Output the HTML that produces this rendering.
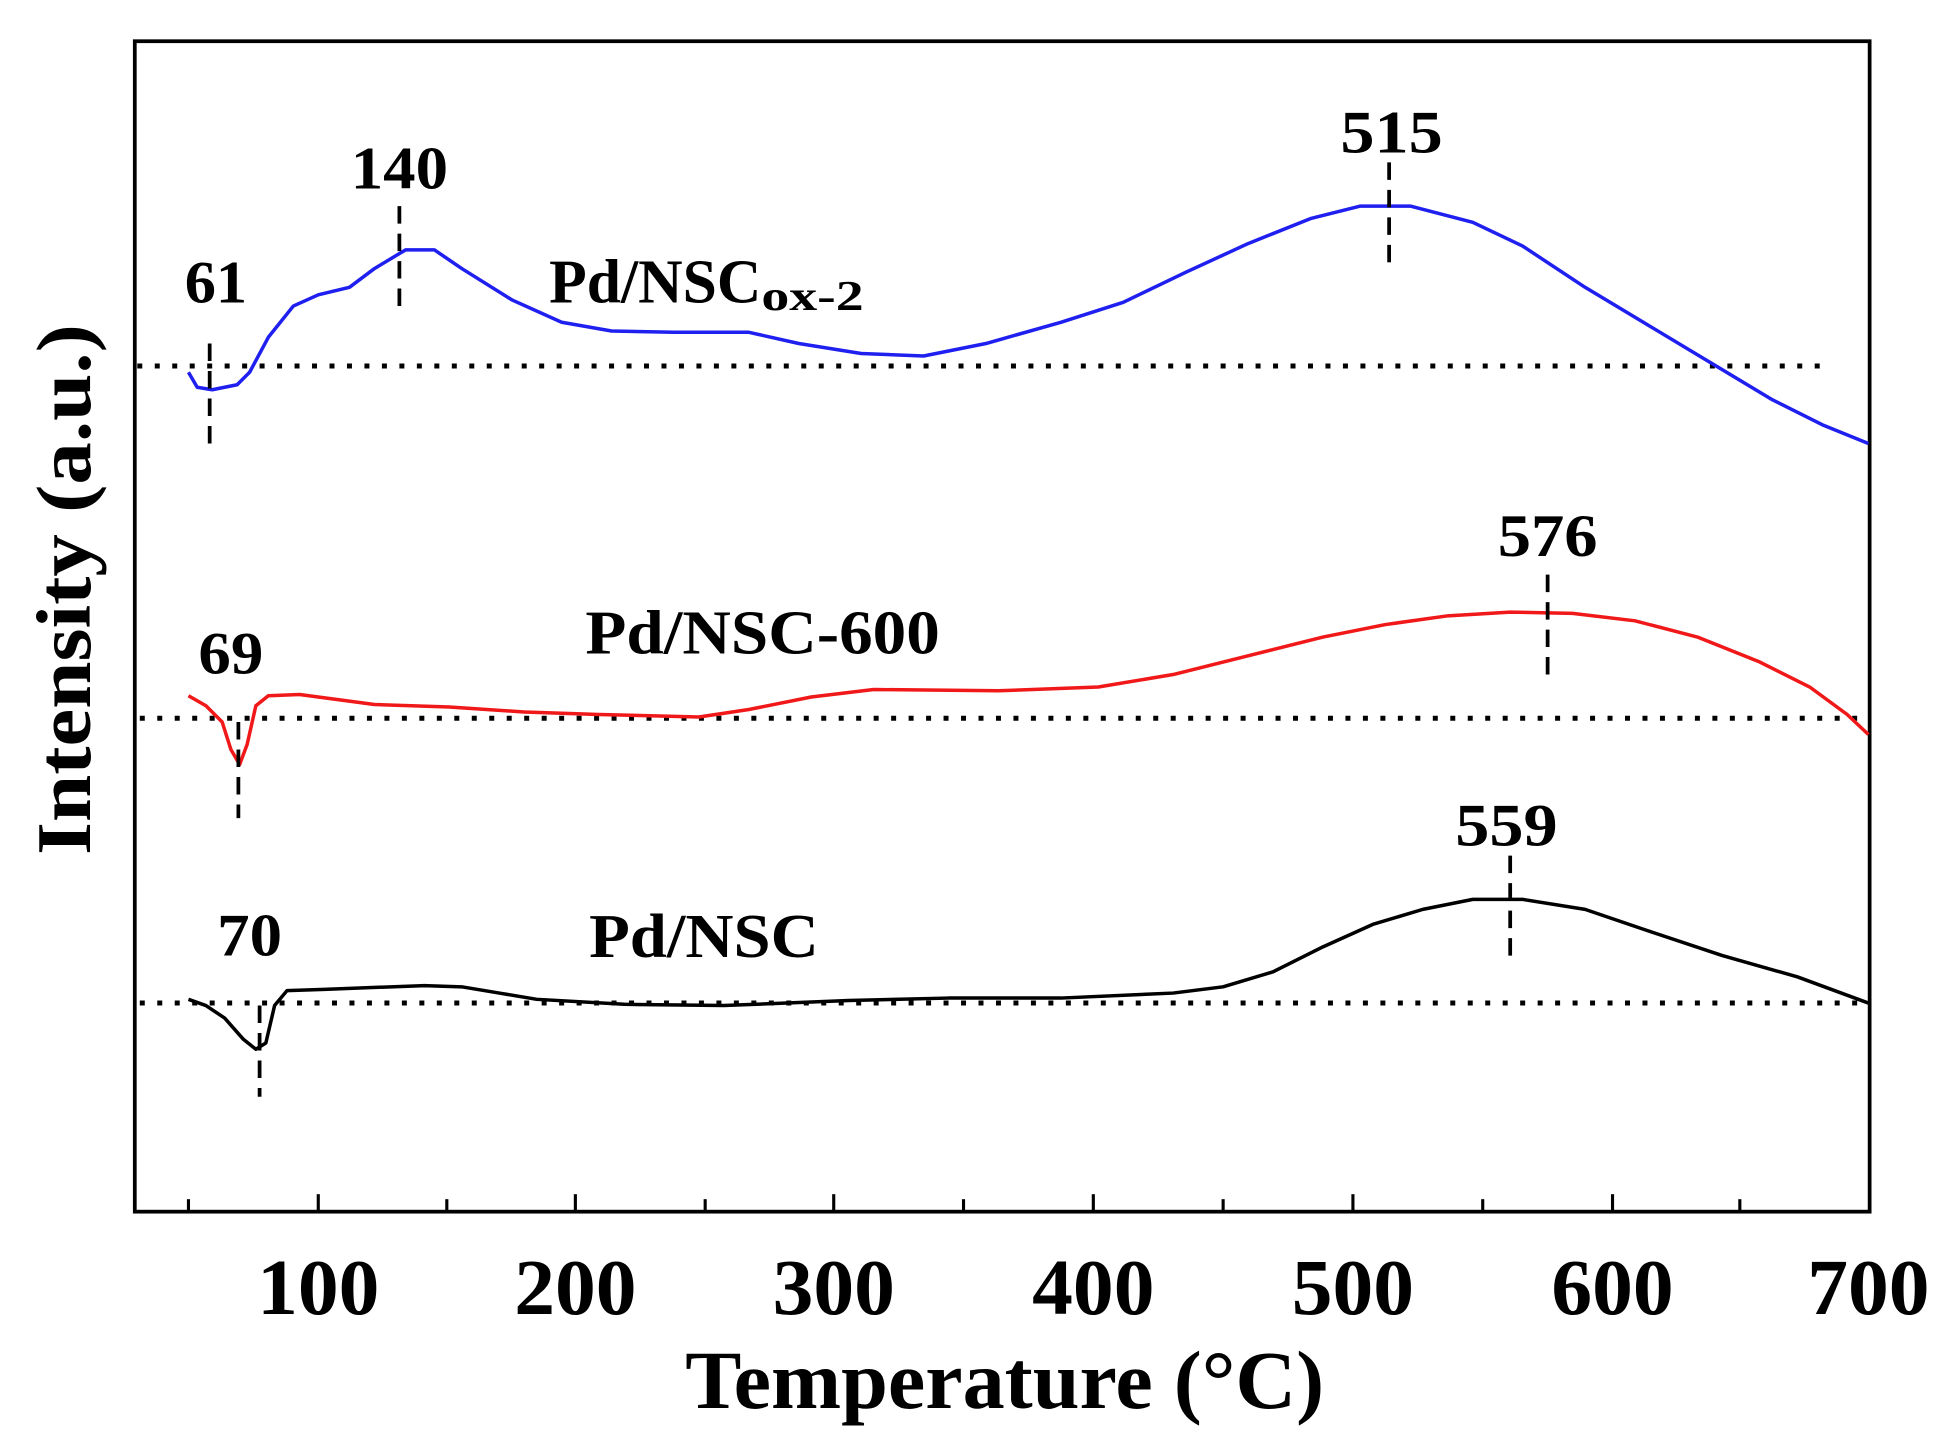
<!DOCTYPE html>
<html><head><style>html,body{margin:0;padding:0;background:#fff;}svg{display:block}</style></head>
<body>
<svg width="1957" height="1449" viewBox="0 0 1568 1160" preserveAspectRatio="none" xmlns="http://www.w3.org/2000/svg" font-family="Liberation Serif, serif" font-weight="bold">
<rect x="108" y="33" width="1390" height="937" fill="none" stroke="#000" stroke-width="3"/>
<g stroke="#000" stroke-width="2.5">
<line x1="151" y1="970" x2="151" y2="960"/><line x1="255" y1="970" x2="255" y2="956"/>
<line x1="358" y1="970" x2="358" y2="960"/><line x1="461" y1="970" x2="461" y2="956"/>
<line x1="565" y1="970" x2="565" y2="960"/><line x1="668" y1="970" x2="668" y2="956"/>
<line x1="772" y1="970" x2="772" y2="960"/><line x1="876" y1="970" x2="876" y2="956"/>
<line x1="980" y1="970" x2="980" y2="960"/><line x1="1084" y1="970" x2="1084" y2="956"/>
<line x1="1188" y1="970" x2="1188" y2="960"/><line x1="1292" y1="970" x2="1292" y2="956"/>
<line x1="1394" y1="970" x2="1394" y2="960"/>
</g>
<g font-size="64" text-anchor="middle">
<text x="255" y="1052" textLength="98" lengthAdjust="spacingAndGlyphs">100</text><text x="461" y="1052" textLength="98" lengthAdjust="spacingAndGlyphs">200</text><text x="668" y="1052" textLength="98" lengthAdjust="spacingAndGlyphs">300</text>
<text x="876" y="1052" textLength="98" lengthAdjust="spacingAndGlyphs">400</text><text x="1084" y="1052" textLength="98" lengthAdjust="spacingAndGlyphs">500</text><text x="1292" y="1052" textLength="98" lengthAdjust="spacingAndGlyphs">600</text>
<text x="1497" y="1052" textLength="98" lengthAdjust="spacingAndGlyphs">700</text>
<text x="805" y="1127" font-size="66" textLength="512" lengthAdjust="spacingAndGlyphs">Temperature (°C)</text>
<text transform="translate(72,472) rotate(-90)" font-size="62" textLength="425" lengthAdjust="spacingAndGlyphs">Intensity (a.u.)</text>
</g>
<g stroke="#000" stroke-width="4" stroke-dasharray="4 10" fill="none">
<line x1="110" y1="293" x2="1460" y2="293"/>
<line x1="112" y1="575" x2="1497" y2="575"/>
<line x1="112" y1="803" x2="1497" y2="803"/>
</g>
<g fill="none" stroke-width="2.8" stroke-linejoin="round">
<polyline stroke="#1f1ff0" points="151,298 158,310 170,312 190,308 200,298 215,270 235,245 255,236 280,230 300,215 325,200 348,200 370,215 410,240 450,258 490,265 540,266 600,266 640,275 690,283 740,285 790,275 850,258 900,242 950,218 1000,195 1050,175 1090,165 1130,165 1180,178 1220,197 1270,230 1320,260 1370,290 1420,320 1460,340 1497,355"/>
<polyline stroke="#f01818" points="151,557 165,565 178,578 185,600 192,612 198,596 205,565 215,557 240,556 300,564 360,566 420,570 480,572 560,574 600,568 650,558 700,552 800,553 880,550 940,540 1000,525 1060,510 1110,500 1160,493 1210,490 1260,491 1310,497 1360,510 1410,530 1450,550 1480,572 1497,588"/>
<polyline stroke="#000" points="151,800 165,805 180,815 195,832 205,840 213,835 220,805 230,793 260,792 340,789 370,790 400,795 430,800 500,804 580,805 680,801 760,799 850,799 940,795 980,790 1020,778 1060,758 1100,740 1140,728 1180,720 1220,720 1270,728 1320,745 1380,765 1440,782 1497,803"/>
</g>
<g stroke="#000" stroke-width="3" stroke-dasharray="14 8">
<line x1="168" y1="275" x2="168" y2="355"/>
<line x1="320" y1="165" x2="320" y2="248"/>
<line x1="1113" y1="130" x2="1113" y2="212"/>
<line x1="191" y1="578" x2="191" y2="655"/>
<line x1="1240" y1="460" x2="1240" y2="540"/>
<line x1="208" y1="805" x2="208" y2="878"/>
<line x1="1210" y1="685" x2="1210" y2="765"/>
</g>
<g font-size="48" text-anchor="middle">
<text x="173" y="242" textLength="50" lengthAdjust="spacingAndGlyphs">61</text><text x="320" y="151" textLength="78" lengthAdjust="spacingAndGlyphs">140</text><text x="1115" y="122" textLength="82" lengthAdjust="spacingAndGlyphs">515</text>
<text x="185" y="539" textLength="52" lengthAdjust="spacingAndGlyphs">69</text><text x="1240" y="445" textLength="80" lengthAdjust="spacingAndGlyphs">576</text>
<text x="200" y="765" textLength="52" lengthAdjust="spacingAndGlyphs">70</text><text x="1207" y="677" textLength="82" lengthAdjust="spacingAndGlyphs">559</text>
</g>
<g font-size="50">
<text x="440" y="242"><tspan textLength="170" lengthAdjust="spacingAndGlyphs">Pd/NSC</tspan><tspan font-size="34" dy="6" textLength="82" lengthAdjust="spacingAndGlyphs">ox-2</tspan></text>
<text x="469" y="523" textLength="284" lengthAdjust="spacingAndGlyphs">Pd/NSC-600</text>
<text x="472" y="766" textLength="184" lengthAdjust="spacingAndGlyphs">Pd/NSC</text>
</g>
</svg>
</body></html>
